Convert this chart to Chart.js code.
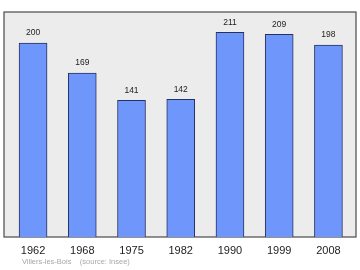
<!DOCTYPE html>
<html>
<head>
<meta charset="utf-8">
<script src="https://cdn.jsdelivr.net/npm/chart.js@4"></script>
<style>
  html, body { margin: 0; padding: 0; background: #fff; }
  #wrap { width: 360px; height: 270px; position: relative; }
</style>
</head>
<body>
<div id="wrap"><canvas id="pop_chart" width="360" height="270"></canvas></div>
<script>
const years = ["1962", "1968", "1975", "1982", "1990", "1999", "2008"];
const pops = [200, 169, 141, 142, 211, 209, 198];
const footer_text = "Villers-les-Bois    (source: Insee)";

// grey plot box behind the bars
const plot_box = {
    id: "plot_box",
    beforeDatasetsDraw(chart) {
        const a = chart.chartArea;
        const ctx = chart.ctx;
        ctx.save();
        ctx.fillStyle = "#ececec";
        ctx.fillRect(a.left, a.top, a.right - a.left, a.bottom - a.top);
        ctx.strokeStyle = "#4a4a4a";
        ctx.lineWidth = 1.2;
        ctx.strokeRect(a.left, a.top, a.right - a.left, a.bottom - a.top);
        ctx.restore();
    }
};

// value above each bar + footer line
const value_labels = {
    id: "value_labels",
    afterDatasetsDraw(chart) {
        const ctx = chart.ctx;
        const meta = chart.getDatasetMeta(0);
        ctx.save();
        ctx.fillStyle = "#222";
        ctx.font = "8.5px 'Liberation Sans', Arial, sans-serif";
        ctx.textAlign = "center";
        ctx.textBaseline = "middle";
        meta.data.forEach((bar, i) => {
            ctx.fillText(pops[i], bar.x, bar.y - 10);
        });
        ctx.fillStyle = "#a8a8a8";
        ctx.font = "7.5px 'Liberation Sans', Arial, sans-serif";
        ctx.textAlign = "left";
        ctx.fillText(footer_text, 22, 262);
        ctx.restore();
    }
};

const pop_ctx = document.getElementById("pop_chart").getContext("2d");
const pop_chart = new Chart(pop_ctx, {
    type: "bar",
    data: {
        datasets: [{
            data: pops.map((v, i) => ({ x: i, y: v })),
            backgroundColor: "#6f96fb",
            borderColor: "#27305e",
            borderWidth: 1,
            borderSkipped: "bottom",
            barThickness: 28
        }]
    },
    options: {
        responsive: false,
        animation: false,
        events: [],
        layout: {
            padding: { left: 4, right: 4, top: 12, bottom: 0 }
        },
        plugins: {
            legend: { display: false },
            tooltip: { enabled: false }
        },
        scales: {
            x: {
                type: "linear",
                offset: false,
                min: -0.59,
                max: 6.56,
                grid: { display: false, drawTicks: false, offset: false },
                border: { display: false },
                afterBuildTicks: axis => {
                    axis.ticks = years.map((y, i) => ({ value: i }));
                },
                afterFit: axis => { axis.height = 33; },
                ticks: {
                    padding: 7,
                    color: "#222",
                    font: { family: "'Liberation Sans', Arial, sans-serif", size: 11 },
                    callback: v => years[v]
                }
            },
            y: {
                display: false,
                min: 0,
                max: 232
            }
        }
    },
    plugins: [plot_box, value_labels]
});
</script>
</body>
</html>
